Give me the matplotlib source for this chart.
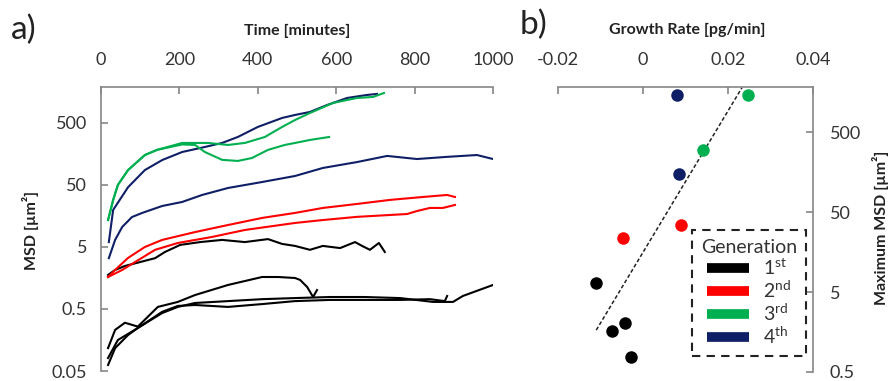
import matplotlib
matplotlib.use("Agg")
import matplotlib.pyplot as plt
from matplotlib.lines import Line2D
from matplotlib.ticker import FixedLocator, NullLocator

plt.rcParams['font.family'] = ['Lato', 'DejaVu Sans']
plt.rcParams['mathtext.fontset'] = 'custom'
plt.rcParams['mathtext.rm'] = 'Lato'
plt.rcParams['mathtext.it'] = 'Lato:italic'

# ---------------- Data: panel a (MSD vs time) ----------------
g3a_t = [18, 31, 43, 69, 112, 143, 207, 273, 324, 367, 418, 462, 495, 533, 592, 653, 694, 722]
g3a_v = [13.6, 28.6, 50, 87, 152, 184, 238, 238, 221, 238, 297, 431, 558, 724, 1052, 1265, 1313, 1523]
g3b_t = [18, 31, 43, 69, 112, 143, 207, 240, 265, 309, 349, 385, 426, 469, 495, 533, 582]
g3b_v = [13.6, 28.6, 50, 87, 152, 184, 225, 221, 170, 127, 122, 136, 184, 221, 238, 266, 297]

g4a_t = [20, 31, 69, 112, 156, 207, 265, 309, 349, 400, 462, 495, 533, 577, 628, 679, 704]
g4a_v = [6.0, 19.8, 46, 87, 126, 170, 205, 238, 297, 431, 602, 673, 752, 975, 1265, 1415, 1469]
g4b_t = [20, 36, 54, 79, 105, 156, 207, 258, 324, 411, 495, 566, 653, 730, 806, 883, 959, 1000]
g4b_v = [3.3, 6.5, 10.5, 15.2, 17.7, 22.9, 26.6, 34.5, 44.7, 55.8, 69.8, 94, 117, 147, 131, 142, 152, 131]

g2a_t = [18, 36, 69, 112, 156, 240, 324, 411, 495, 566, 653, 737, 821, 883, 903]
g2a_v = [1.64, 2.13, 3.33, 5.0, 6.5, 8.7, 11.3, 14.7, 17.7, 21.3, 24.7, 28.7, 32, 34.5, 32]
g2b_t = [18, 54, 87, 138, 196, 283, 367, 495, 566, 653, 737, 781, 806, 839, 872, 903]
g2b_v = [1.64, 2.13, 2.86, 4.5, 5.8, 7.25, 9.4, 12.2, 13.6, 15.3, 16.4, 17.0, 19, 21.3, 21.3, 23.8]

g1a_t = [18, 36, 61, 100, 138, 163, 202, 253, 309, 367, 426, 462, 495, 533, 566, 610, 648, 666, 686, 709, 724]
g1a_v = [1.77, 2.13, 2.47, 2.86, 3.3, 4.15, 5.4, 6.0, 6.5, 6.0, 6.7, 5.6, 5.2, 4.5, 5.2, 4.8, 6.0, 5.2, 4.5, 5.8, 4.15]
g1b_t = [18, 36, 61, 94, 145, 196, 240, 324, 411, 452, 495, 508, 526, 541, 551]
g1b_v = [0.117, 0.23, 0.30, 0.26, 0.54, 0.65, 0.84, 1.22, 1.64, 1.64, 1.58, 1.47, 1.13, 0.78, 1.01]
g1c_t = [18, 36, 69, 94, 156, 196, 240, 324, 411, 495, 584, 673, 763, 847, 898, 923, 1000]
g1c_v = [0.0625, 0.117, 0.19, 0.247, 0.43, 0.54, 0.625, 0.67, 0.72, 0.75, 0.78, 0.78, 0.75, 0.65, 0.65, 0.81, 1.22]
g1d_t = [18, 43, 94, 156, 196, 240, 324, 411, 495, 584, 673, 763, 839, 877, 883]
g1d_v = [0.081, 0.158, 0.247, 0.45, 0.56, 0.58, 0.54, 0.60, 0.67, 0.70, 0.70, 0.70, 0.72, 0.67, 0.81]

a_xticks = [0, 200, 400, 600, 800, 1000]
a_yticks = [0.05, 0.5, 5, 50, 500]
a_yticklabels = ['0.05', '0.5', '5', '50', '500']

# ---------------- Data: panel b (max MSD vs growth rate) ----------------
gen1_rate = [-0.0111, -0.0042, -0.0073, -0.0028]
gen1_msd = [6.5, 2.05, 1.62, 0.77]
gen2_rate = [-0.0047, 0.0089]
gen2_msd = [23.7, 34.4]
gen3_rate = [0.0141, 0.0247]
gen3_msd = [298, 1450]
gen4_rate = [0.0085, 0.0080]
gen4_msd = [149, 1450]
fit_rate = [-0.011, 0.0233]
fit_msd = [1.67, 1800]

b_xticks = [-0.02, 0, 0.02, 0.04]
b_xticklabels = ['-0.02', '0', '0.02', '0.04']
b_yticks = [0.5, 5, 50, 500]
b_yticklabels = ['0.5', '5', '50', '500']

gen_labels = [r'1$^{\mathrm{st}}$', r'2$^{\mathrm{nd}}$', r'3$^{\mathrm{rd}}$', r'4$^{\mathrm{th}}$']

# ---------------- Styling ----------------
BLACK = '#000000'
RED = '#FF0000'
GREEN = '#00B050'
NAVY = '#0F1F66'
SPINE = '#868686'
TXT = '#333333'
colors = [BLACK, RED, GREEN, NAVY]

W, H = 888, 381
fig = plt.figure(figsize=(W / 100, H / 100), dpi=100)

def fr(l, r, t, b):
    return [l / W, 1 - b / H, (r - l) / W, (b - t) / H]

# ---------- Panel a ----------
ax = fig.add_axes(fr(101, 493, 87, 371))
lw = 1.5
for t, v in [(g1a_t, g1a_v), (g1b_t, g1b_v), (g1c_t, g1c_v), (g1d_t, g1d_v)]:
    ax.plot(t, v, color=BLACK, lw=lw)
for t, v in [(g2a_t, g2a_v), (g2b_t, g2b_v)]:
    ax.plot(t, v, color=RED, lw=lw)
for t, v in [(g4a_t, g4a_v), (g4b_t, g4b_v)]:
    ax.plot(t, v, color=NAVY, lw=lw)
for t, v in [(g3a_t, g3a_v), (g3b_t, g3b_v)]:
    ax.plot(t, v, color=GREEN, lw=lw)

ax.set_yscale('log')
ax.set_xlim(0, 1000)
ax.set_ylim(0.05, 1900)
ax.xaxis.tick_top()
ax.set_xticks(a_xticks)
ax.set_xticklabels([str(x) for x in a_xticks])
ax.yaxis.set_major_locator(FixedLocator(a_yticks))
ax.yaxis.set_minor_locator(NullLocator())
ax.set_yticklabels(a_yticklabels)
for s in ['right', 'bottom']:
    ax.spines[s].set_visible(False)
for s in ['left', 'top']:
    ax.spines[s].set_color(SPINE)
    ax.spines[s].set_linewidth(1.2)
ax.tick_params(axis='x', direction='in', length=5, width=1.2, color=SPINE,
               labelsize=13, labelcolor=TXT, pad=14)
ax.tick_params(axis='y', direction='in', length=5, width=1.2, color=SPINE,
               labelsize=13, labelcolor=TXT, pad=10)

# ---------- Panel b ----------
bx = fig.add_axes(fr(558, 813, 87, 372))
bx.plot(fit_rate, fit_msd, color='#222222', lw=1.1, ls=(0, (2.5, 1.5)))
for r, m, c in [(gen1_rate, gen1_msd, BLACK), (gen2_rate, gen2_msd, RED),
                (gen3_rate, gen3_msd, GREEN), (gen4_rate, gen4_msd, NAVY)]:
    bx.plot(r, m, 'o', color=c, ms=9, mew=0, ls='none')
bx.set_yscale('log')
bx.set_xlim(-0.02, 0.04)
bx.set_ylim(0.5, 1830)
bx.xaxis.tick_top()
bx.yaxis.tick_right()
bx.set_xticks(b_xticks)
bx.set_xticklabels(b_xticklabels)
bx.yaxis.set_major_locator(FixedLocator(b_yticks))
bx.yaxis.set_minor_locator(NullLocator())
bx.set_yticklabels(b_yticklabels)
for s in ['left', 'bottom']:
    bx.spines[s].set_visible(False)
for s in ['right', 'top']:
    bx.spines[s].set_color(SPINE)
    bx.spines[s].set_linewidth(1.2)
bx.tick_params(axis='x', direction='in', length=5, width=1.2, color=SPINE,
               labelsize=13, labelcolor=TXT, pad=14)
bx.tick_params(axis='y', direction='in', length=5, width=1.2, color=SPINE,
               labelsize=13, labelcolor=TXT, pad=12)

handles = [Line2D([], [], color=c, lw=7, solid_capstyle='butt') for c in colors]
leg = fig.legend(handles, gen_labels, title='Generation', loc='upper left',
                 bbox_to_anchor=(692 / W, 1 - 230 / H), borderaxespad=0,
                 fontsize=14, title_fontsize=14, handlelength=2.2,
                 handletextpad=0.7, labelspacing=0.1, borderpad=0.45,
                 fancybox=False, framealpha=1)
fr_ = leg.get_frame()
fr_.set_edgecolor('#222222')
fr_.set_linestyle((0, (4, 3)))
fr_.set_linewidth(1.5)
leg.get_title().set_color(TXT)
for t in leg.get_texts():
    t.set_color(TXT)

# ---------- Titles & labels ----------
fig.text(297 / W, 1 - 31 / H, 'Time [minutes]', ha='center', va='center',
         fontsize=11.5, fontweight='bold', color='#222222')
fig.text(687 / W, 1 - 30 / H, 'Growth Rate [pg/min]', ha='center', va='center',
         fontsize=11.5, fontweight='bold', color='#222222')
fig.text(30 / W, 1 - 230 / H, 'MSD [µm²]', ha='center', va='center', rotation=90,
         fontsize=11.5, fontweight='bold', color='#222222')
fig.text(880 / W, 1 - 228 / H, 'Maximum MSD [µm²]', ha='center', va='center', rotation=90,
         fontsize=11.5, fontweight='bold', color='#222222')
fig.text(11 / W, 1 - 30 / H, 'a)', ha='left', va='center', fontsize=24, color='#222222')
fig.text(520 / W, 1 - 25 / H, 'b)', ha='left', va='center', fontsize=24, color='#222222')

fig.savefig('out.png', dpi=100)
